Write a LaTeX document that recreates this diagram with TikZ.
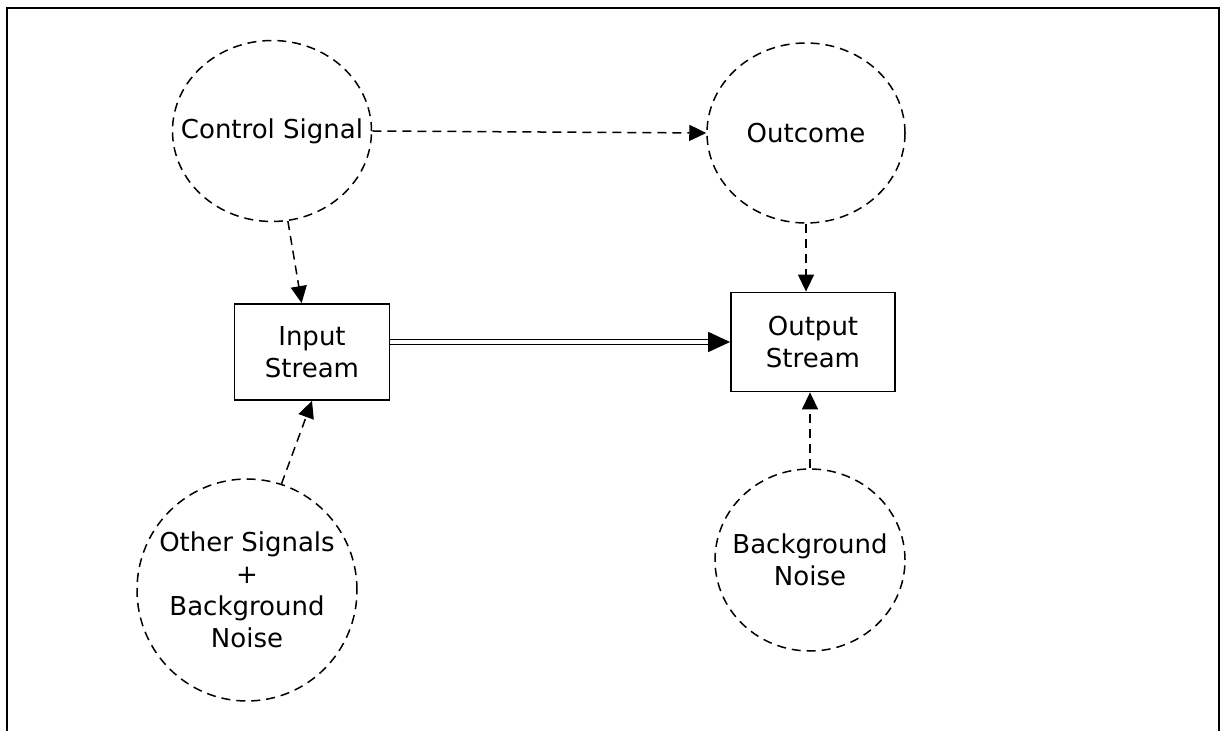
\documentclass[tikz,border=0pt]{standalone}
\usepackage{fontspec}
\setmainfont{DejaVu Sans}
\usetikzlibrary{shapes.geometric, arrows.meta, calc}

\tikzset{
  sig/.style={ellipse, draw, dash pattern=on 4.5pt off 3pt, line width=0.75pt, inner sep=0pt},
  streambox/.style={rectangle, draw, line width=0.9pt, align=center, inner sep=0pt},
  dasharrow/.style={-{Triangle[length=8.5pt,width=8pt]}, dash pattern=on 4.5pt off 3pt, line width=0.75pt},
}

\begin{document}
\begin{tikzpicture}[x=0.5pt, y=-0.5pt, font=\fontsize{13}{16}\selectfont]
    \useasboundingbox (0,0) rectangle (1225,731);

    % Outer frame (open at the bottom)
    \draw[line width=1pt] (7,731) -- (7,8) -- (1219,8) -- (1219,731);

    % Signals
    \node[sig, minimum width=99.5pt, minimum height=90.5pt] (ctrl) at (272,131) {};
    \node at (ctrl.center) {Control Signal};
    \node[sig, minimum width=99pt, minimum height=90pt] (outcome) at (806,133) {};
    \node at (outcome.center) {Outcome};
    \node[sig, minimum width=110pt, minimum height=111pt,
          label={[align=center]center:Other Signals\\+\\Background\\Noise}] (other) at (247,590) {};
    \node[sig, minimum width=95pt, minimum height=91pt,
          label={[align=center]center:Background\\Noise}] (bgnoise) at (810,560) {};

    % Streams
    \node[streambox, minimum width=77.5pt, minimum height=48pt] (input) at (312,352) {Input\\Stream};
    \node[streambox, minimum width=82pt, minimum height=49.5pt] (output) at (813,342) {Output\\Stream};

    % Connectors
    \draw[dasharrow] (ctrl.east) -- (outcome.west);
    \draw[dasharrow] (ctrl.-80) -- (input.102);
    \draw[dasharrow] (other.72) -- (input.south);
    \draw[dasharrow] (outcome.south) -- (outcome.south |- output.north);
    \draw[dasharrow] (bgnoise.north) -- (bgnoise.north |- output.south);

    % Main stream
    \draw[double, double distance=1.6pt, line width=0.8pt, -{Triangle[length=11pt,width=10pt]}]
        (input.east |- output.west) -- (output.west);
\end{tikzpicture}
\end{document}
